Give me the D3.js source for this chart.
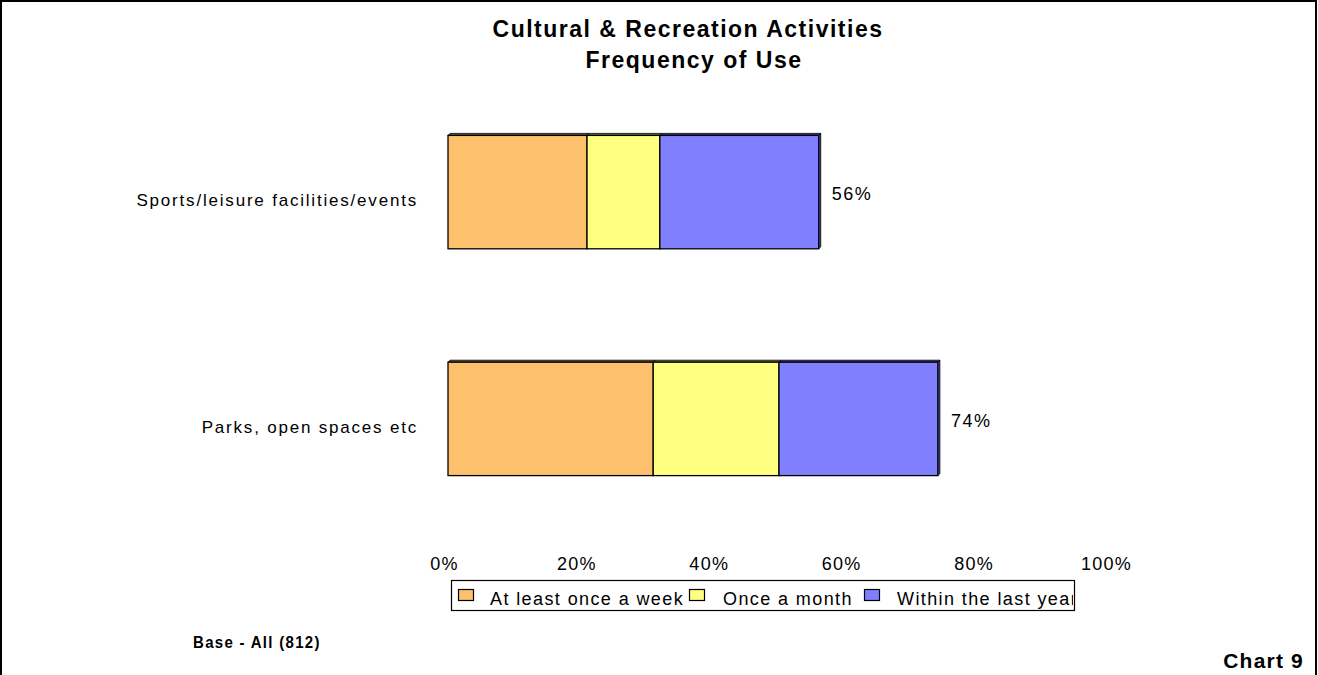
<!DOCTYPE html>
<html>
<head>
<meta charset="utf-8">
<script src="https://cdn.jsdelivr.net/npm/d3@7"></script>
<style>
  html, body { margin: 0; padding: 0; background: #fff; }
  svg { display: block; }
  text { font-family: "Liberation Sans", Arial, sans-serif; fill: #000; }
</style>
</head>
<body>
<svg id="chart" width="1318" height="675"></svg>
<script>
// Frequency of use, % of respondents, stacked per activity
const categories = ["Sports/leisure facilities/events", "Parks, open spaces etc"];
const seriesNames = ["At least once a week", "Once a month", "Within the last year"];
const weekly  = [21, 31];
const monthly = [11, 19];
const yearly  = [24, 24];
const totals  = [56, 74];
const tickValues = [0, 20, 40, 60, 80, 100];
const tickLabels = ["0%", "20%", "40%", "60%", "80%", "100%"];
const colors = ["#FDC06C", "#FFFF80", "#8080FF"];
const sideColors = ["#7a5a30", "#7a7a3a", "#3a3a8a"];

const svg = d3.select("#chart");
const W = 1318, H = 675;

// outer frame
svg.append("rect")
  .attr("x", 1).attr("y", 1).attr("width", W - 3).attr("height", H + 10)
  .attr("fill", "none").attr("stroke", "#000").attr("stroke-width", 2);

// titles
const title = svg.append("g").attr("font-weight", "bold").attr("font-size", 23)
  .attr("text-anchor", "middle").attr("letter-spacing", 1.5);
title.append("text").attr("x", 688).attr("y", 37).text("Cultural & Recreation Activities");
title.append("text").attr("x", 694).attr("y", 68).text("Frequency of Use");

// scales
const x = d3.scaleLinear().domain([0, 100]).range([448, 1110]);
const y = d3.scaleBand().domain(categories).range([22, 589]).padding(0.5);

// stacked layout
const rows = categories.map((c, i) => ({ cat: c, weekly: weekly[i], monthly: monthly[i], yearly: yearly[i] }));
const stack = d3.stack().keys(["weekly", "monthly", "yearly"]);
const layers = stack(rows);

const depth = 2; // slight 3-D depth of the bars

const plot = svg.append("g");
layers.forEach((layer, li) => {
  const g = plot.append("g");
  // top face
  g.selectAll("path.top").data(layer).join("path")
    .attr("d", d => {
      const x0 = x(d[0]), x1 = x(d[1]), yt = y(d.data.cat);
      return `M${x0},${yt}L${x0 + depth},${yt - depth}L${x1 + depth},${yt - depth}L${x1},${yt}Z`;
    })
    .attr("fill", sideColors[li]).attr("stroke", "#000").attr("stroke-width", 0.8);
  // front face
  g.selectAll("rect").data(layer).join("rect")
    .attr("x", d => x(d[0]))
    .attr("y", d => y(d.data.cat))
    .attr("width", d => x(d[1]) - x(d[0]))
    .attr("height", y.bandwidth())
    .attr("fill", colors[li])
    .attr("stroke", "#000").attr("stroke-width", 1.3);
});
// right side face of each stack
plot.selectAll("path.side").data(layers[layers.length - 1]).join("path")
  .attr("d", d => {
    const x1 = x(d[1]), yt = y(d.data.cat), yb = yt + y.bandwidth();
    return `M${x1},${yt}L${x1 + depth},${yt - depth}L${x1 + depth},${yb - depth}L${x1},${yb}Z`;
  })
  .attr("fill", sideColors[2]).attr("stroke", "#000").attr("stroke-width", 0.8);

// value labels
svg.append("g").attr("font-size", 18).attr("letter-spacing", 1.5)
  .selectAll("text").data(categories).join("text")
  .attr("x", (c, i) => x(totals[i]) + 13)
  .attr("y", c => y(c) + y.bandwidth() / 2 + 8)
  .text((c, i) => totals[i] + "%");

// category labels
svg.append("g").attr("font-size", 17).attr("letter-spacing", 1.8).attr("text-anchor", "end")
  .selectAll("text").data(categories).join("text")
  .attr("x", 418)
  .attr("y", c => y(c) + y.bandwidth() / 2 + 14)
  .text(c => c);

// x axis labels (no line drawn)
const axis = d3.axisBottom(x).tickValues(tickValues)
  .tickFormat((d, i) => tickLabels[i]).tickSize(0).tickPadding(0);
const ax = svg.append("g").attr("transform", "translate(-4,557)").call(axis);
ax.select(".domain").remove();
ax.selectAll("text")
  .attr("font-family", "Liberation Sans, Arial, sans-serif")
  .attr("font-size", 18).attr("letter-spacing", 1.3).attr("fill", "#000")
  .attr("dy", "0.72em");

// legend, entries clipped to the box
svg.append("defs").append("clipPath").attr("id", "legend-clip")
  .append("rect").attr("x", 452).attr("y", 581).attr("width", 621).attr("height", 29);
const legend = svg.append("g");
legend.append("rect").attr("x", 451.5).attr("y", 580.5).attr("width", 623).attr("height", 30)
  .attr("fill", "#fff").attr("stroke", "#000").attr("stroke-width", 1.2);
const legendX = [458, 689, 864];
const li = legend.append("g").attr("clip-path", "url(#legend-clip)")
  .selectAll("g.item").data(seriesNames).join("g")
  .attr("transform", (d, i) => `translate(${legendX[i]},589)`);
li.append("rect").attr("x", 0.5).attr("y", 0.5).attr("width", 15).attr("height", 11)
  .attr("fill", (d, i) => colors[i]).attr("stroke", "#000").attr("stroke-width", 1.2);
li.append("text").attr("x", (d, i) => [32, 34, 33][i]).attr("y", 16)
  .attr("font-size", 18).attr("letter-spacing", 1.4).text(d => d);

// footnotes
svg.append("text").attr("transform", "translate(193,648) scale(1,1.15)").attr("font-size", 15)
  .attr("font-weight", "bold").attr("letter-spacing", 1.3).text("Base - All (812)");
svg.append("text").attr("x", 1304).attr("y", 668).attr("font-size", 21)
  .attr("font-weight", "bold").attr("text-anchor", "end").attr("letter-spacing", 1.2).text("Chart 9");
</script>
</body>
</html>
